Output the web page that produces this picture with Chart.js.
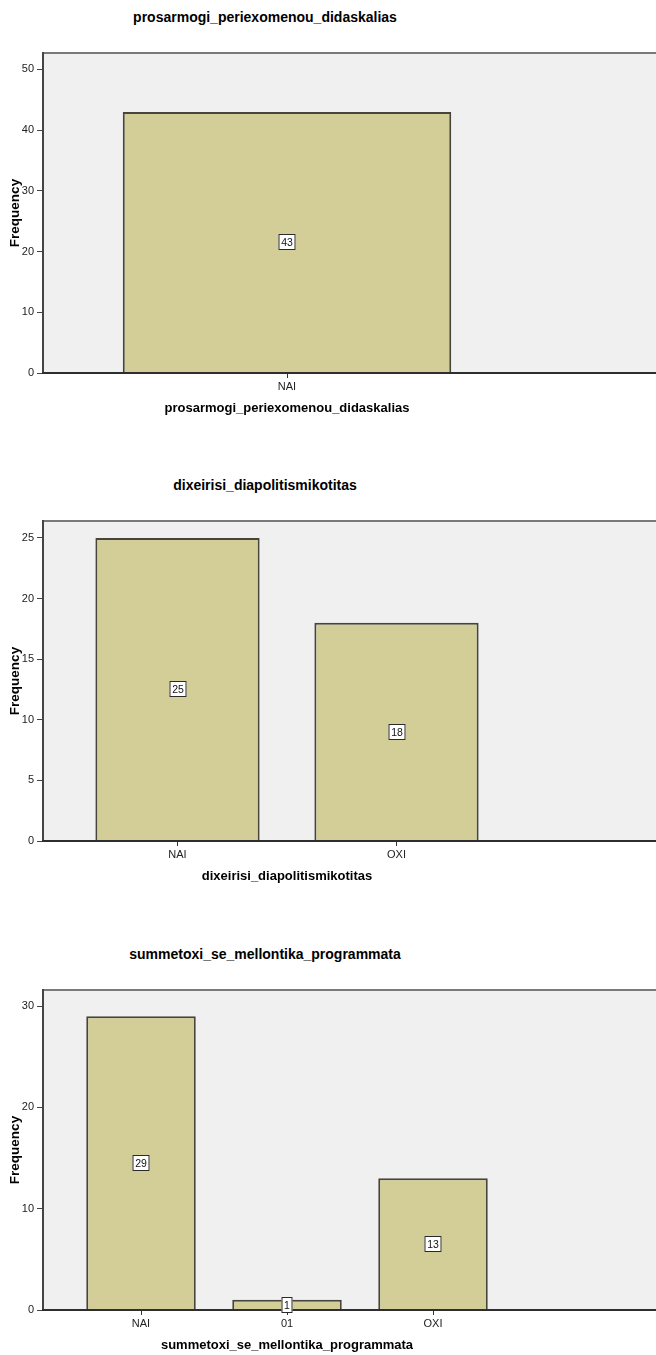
<!DOCTYPE html>
<html>
<head>
<meta charset="utf-8">
<script src="https://cdn.jsdelivr.net/npm/chart.js@4.4.1/dist/chart.umd.min.js"></script>
<style>
  html, body { margin: 0; padding: 0; background: #fff; }
  body { width: 656px; height: 1355px; overflow: hidden; position: relative; font-family: "Liberation Sans", Arial, sans-serif; }
  .bloque { position: absolute; left: 0; width: 656px; height: 469px; }
  .titulo { position: absolute; left: 0; top: 8px; width: 530px; text-align: center; font-weight: bold; font-size: 14px; line-height: 18px; color: #000; }
  canvas { position: absolute; left: 0; top: 0; }
</style>
</head>
<body>
<div class="bloque" style="top:0px"><div class="titulo" id="t1"></div><canvas id="c1" width="656" height="440"></canvas></div>
<div class="bloque" style="top:468px"><div class="titulo" id="t2"></div><canvas id="c2" width="656" height="440"></canvas></div>
<div class="bloque" style="top:937px"><div class="titulo" id="t3"></div><canvas id="c3" width="656" height="440"></canvas></div>
<script>
const titulos = ['prosarmogi_periexomenou_didaskalias', 'dixeirisi_diapolitismikotitas', 'summetoxi_se_mellontika_programmata'];

const categorias1 = ['NAI'];
const frecuencias1 = [43];

const categorias2 = ['NAI', 'OXI'];
const frecuencias2 = [25, 18];

const categorias3 = ['NAI', '01', 'OXI'];
const frecuencias3 = [29, 1, 13];

const ejeMax = [52.7, 26.4, 31.6];
const ejePaso = [10, 5, 10];

const FUENTE = '"Liberation Sans", Arial, sans-serif';

// marco gris, eje inferior y etiquetas con el valor en el centro de cada barra
const marcoSPSS = {
    id: 'marcoSPSS',
    afterLayout(chart) {
        // SPSS deja las categorias en una franja mas estrecha que el marco
        const x = chart.scales.x;
        x.left = chart.chartArea.left + 25;
        x.width = 438;
        x.right = x.left + x.width;
        x.configure();
    },
    beforeDraw(chart) {
        const { ctx, chartArea: a } = chart;
        ctx.save();
        ctx.fillStyle = '#f0f0f0';
        ctx.fillRect(a.left, a.top, a.right - a.left, a.bottom - a.top);
        ctx.strokeStyle = '#7a7a7a';
        ctx.lineWidth = 2;
        ctx.beginPath();
        ctx.moveTo(a.left, a.top);
        ctx.lineTo(a.right, a.top);
        ctx.stroke();
        ctx.restore();
    },
    afterDatasetsDraw(chart) {
        const { ctx, chartArea: a } = chart;
        ctx.save();
        ctx.strokeStyle = '#2e2e2e';
        ctx.lineWidth = 2;
        ctx.beginPath();
        ctx.moveTo(a.left - 1, a.bottom);
        ctx.lineTo(a.right, a.bottom);
        ctx.stroke();

        const meta = chart.getDatasetMeta(0);
        const valores = chart.data.datasets[0].data;
        ctx.font = '10.5px ' + FUENTE;
        ctx.textAlign = 'center';
        ctx.textBaseline = 'middle';
        meta.data.forEach((barra, i) => {
            const txt = String(valores[i]);
            const cx = Math.round(barra.x);
            const cy = Math.round((barra.y + barra.base) / 2);
            const w = Math.round(ctx.measureText(txt).width) + 5;
            const h = 16;
            ctx.fillStyle = '#fff';
            ctx.fillRect(cx - w / 2, cy - h / 2, w, h);
            ctx.strokeStyle = '#2a2a2a';
            ctx.lineWidth = 1;
            ctx.strokeRect(cx - w / 2 + 0.5, cy - h / 2 + 0.5, w - 1, h - 1);
            ctx.fillStyle = '#111';
            ctx.fillText(txt, cx, cy + 1);
        });
        ctx.restore();
    }
};

function dibujarGrafica(idCanvas, idTitulo, titulo, categorias, frecuencias, max, paso) {
    document.getElementById(idTitulo).textContent = titulo;
    const ctx = document.getElementById(idCanvas).getContext('2d');
    return new Chart(ctx, {
        type: 'bar',
        data: {
            labels: categorias,
            datasets: [{
                label: 'Frequency',
                data: frecuencias,
                backgroundColor: '#d3ce97',
                borderColor: '#45453c',
                borderWidth: 2,
                categoryPercentage: 1,
                barPercentage: 0.75
            }]
        },
        plugins: [marcoSPSS],
        options: {
            responsive: false,
            animation: false,
            layout: { padding: { top: 53, left: 0, right: 0, bottom: 0 } },
            plugins: {
                legend: { display: false },
                title: { display: false },
                tooltip: { enabled: false }
            },
            scales: {
                x: {
                    offset: true,
                    afterFit: s => { s.height = 67; },
                    border: { display: false },
                    grid: { offset: false, drawOnChartArea: false, drawTicks: true, tickLength: 5, color: '#333', lineWidth: 1 },
                    ticks: { color: '#222', font: { family: FUENTE, size: 11 }, padding: 2, maxRotation: 0 },
                    title: { display: true, text: titulo, color: '#000', font: { family: FUENTE, size: 13, weight: 'bold' }, padding: { top: 0, bottom: 24 } }
                },
                y: {
                    min: 0,
                    max: max,
                    afterFit: s => { s.width = 43; },
                    border: { display: true, color: '#444', width: 2 },
                    grid: { drawOnChartArea: false, drawTicks: true, tickLength: 6, color: '#444', lineWidth: 1 },
                    ticks: { stepSize: paso, includeBounds: false, color: '#222', font: { family: FUENTE, size: 11 }, padding: 3 },
                    title: { display: true, text: 'Frequency', color: '#000', font: { family: FUENTE, size: 13.5, weight: 'bold' }, padding: { top: 7, bottom: 0 } }
                }
            }
        }
    });
}

dibujarGrafica('c1', 't1', titulos[0], categorias1, frecuencias1, ejeMax[0], ejePaso[0]);
dibujarGrafica('c2', 't2', titulos[1], categorias2, frecuencias2, ejeMax[1], ejePaso[1]);
dibujarGrafica('c3', 't3', titulos[2], categorias3, frecuencias3, ejeMax[2], ejePaso[2]);
</script>
</body>
</html>
